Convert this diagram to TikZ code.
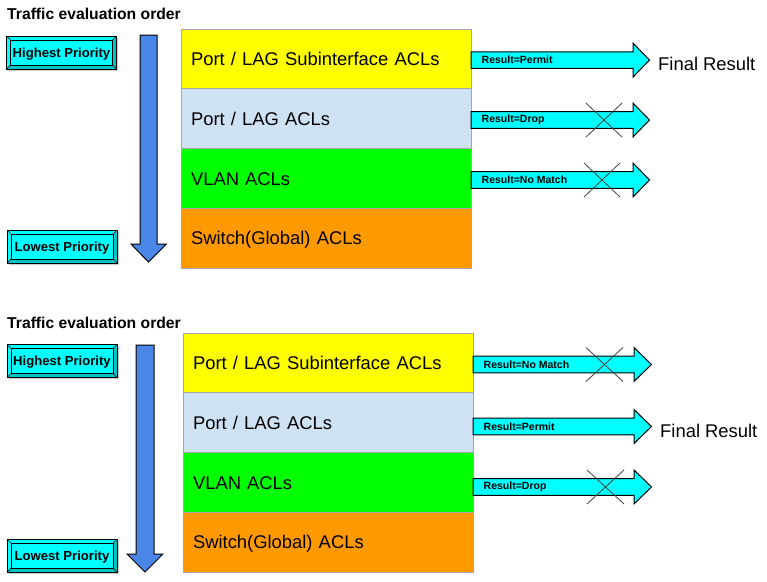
\documentclass[tikz,border=0pt]{standalone}
\usepackage{fontspec}
\setmainfont{Liberation Sans}
\usetikzlibrary{positioning,shadows}
\definecolor{subyellow}{HTML}{FFFF00}
\definecolor{laglight}{HTML}{CFE2F3}
\definecolor{vlangreen}{HTML}{00FF00}
\definecolor{switchorange}{HTML}{FF9900}
\definecolor{orderblue}{HTML}{4A86E8}
\definecolor{resultcyan}{HTML}{00FFFF}
\definecolor{bevelcyan}{HTML}{00C4C4}

\begin{document}
\begin{tikzpicture}[x=1pt,y=-1pt,
  aclrow/.style={draw=black!35, line width=0.8pt, outer sep=0pt, minimum height=59.75pt, text width=270pt, inner xsep=10pt, align=left, text height=13.3pt, text depth=0pt, font=\fontsize{18.4}{22}\selectfont},
  prio/.style={draw=black, line width=0.8pt, fill=resultcyan, minimum width=110pt, minimum height=33pt, inner sep=0pt,
    text height=9.5pt, text depth=0pt, font=\bfseries\fontsize{13.1}{15}\selectfont,
    drop shadow={shadow xshift=1.5pt, shadow yshift=-1.5pt, fill=black!40},
    path picture={
      \fill[bevelcyan] (path picture bounding box.south west) -- ++(4pt,4pt) -| ([shift={(-4pt,-4pt)}]path picture bounding box.north east) -- (path picture bounding box.north east) -- (path picture bounding box.south east) -- cycle;
      \draw[line width=0.6pt] ([shift={(4pt,4pt)}]path picture bounding box.south west) rectangle ([shift={(-4pt,-4pt)}]path picture bounding box.north east);
      \draw[line width=0.5pt] (path picture bounding box.south west) -- ++(4pt,4pt);
      \draw[line width=0.5pt] (path picture bounding box.south east) -- ++(-4pt,4pt);
      \draw[line width=0.5pt] (path picture bounding box.north west) -- ++(4pt,-4pt);
      \draw[line width=0.5pt] (path picture bounding box.north east) -- ++(-4pt,-4pt);
    }},
  title/.style={anchor=west, inner sep=0pt, font=\bfseries\fontsize{15.7}{18}\selectfont},
  result/.style={anchor=west, inner sep=0pt, font=\bfseries\fontsize{10.5}{12}\selectfont},
  final/.style={anchor=west, inner sep=0pt, font=\fontsize{18.4}{22}\selectfont},
  orderarrow/.style={draw=black, fill=orderblue, line width=1pt},
  resarrow/.style={draw=black, fill=resultcyan, line width=1pt},
  nogo/.style={draw=black!75, line width=0.8pt}]
\useasboundingbox (0,0) rectangle (767,581);

% first case: subinterface ACL permits
\node[title] (ttl1) at (7,14) {Traffic evaluation order};
\node[prio] (hi1) at (61.5,52.5) {Highest Priority};
\node[prio] (lo1) at (62,246.5) {Lowest Priority};
\draw[orderarrow] (140,35) -- (157,35) -- (157,244) -- (166.5,244) -- (148.5,262) -- (131,244) -- (140,244) -- cycle;
\node[aclrow, fill=subyellow, anchor=north west] (sub1) at (181,29) {Port / LAG Subinterface ACLs};
\node[aclrow, fill=laglight, below=0pt of sub1] (lag1) {Port / LAG ACLs};
\node[aclrow, fill=vlangreen, below=0pt of lag1] (vlan1) {VLAN ACLs};
\node[aclrow, fill=switchorange, below=0pt of vlan1] (glb1) {Switch(Global) ACLs};
\foreach \row/\dy/\res [count=\i] in {sub1/1.2/Permit, lag1/1.4/Drop, vlan1/1.6/No Match} {
  \coordinate (a\i) at ([yshift=-\dy pt]\row.east);
  \draw[resarrow] (a\i) ++(0,-8.3) -- ++(162,0) -- ++(0,-8.7) -- ++(16.5,17) -- ++(-16.5,17) -- ++(0,-8.7) -- ++(-162,0) -- cycle;
  \node[result] (ra\i) at ([xshift=10.5pt]a\i) {Result=\res};
}
\draw[nogo] (a2) ++(115,-17) -- ++(36,34) ++(0,-34) -- ++(-36,34);
\draw[nogo] (a3) ++(113,-17) -- ++(36,34) ++(0,-34) -- ++(-36,34);
\node[final] (fin1) at (658,64) {Final Result};

% second case: port ACL permits
\node[title] (ttl2) at (7,323) {Traffic evaluation order};
\node[prio] (hi2) at (62,361) {Highest Priority};
\node[prio] (lo2) at (62,555.8) {Lowest Priority};
\draw[orderarrow] (136,345) -- (154,345) -- (154,554) -- (163,554) -- (145,572) -- (127,554) -- (136,554) -- cycle;
\node[aclrow, fill=subyellow, anchor=north west] (sub2) at (183,333) {Port / LAG Subinterface ACLs};
\node[aclrow, fill=laglight, below=0pt of sub2] (lag2) {Port / LAG ACLs};
\node[aclrow, fill=vlangreen, below=0pt of lag2] (vlan2) {VLAN ACLs};
\node[aclrow, fill=switchorange, below=0pt of vlan2] (glb2) {Switch(Global) ACLs};
\foreach \row/\dy/\res [count=\i] in {sub2/1.6/No Match, lag2/3.9/Permit, vlan2/4.6/Drop} {
  \coordinate (b\i) at ([yshift=-\dy pt]\row.east);
  \draw[resarrow] (b\i) ++(0,-8.3) -- ++(161,0) -- ++(0,-8.7) -- ++(17.5,17) -- ++(-17.5,17) -- ++(0,-8.7) -- ++(-161,0) -- cycle;
  \node[result] (rb\i) at ([xshift=10.5pt]b\i) {Result=\res};
}
\draw[nogo] (b1) ++(113,-17) -- ++(37,34) ++(0,-34) -- ++(-37,34);
\draw[nogo] (b3) ++(114,-17) -- ++(37,34) ++(0,-34) -- ++(-37,34);
\node[final] (fin2) at (660,431) {Final Result};
\end{tikzpicture}
\end{document}
